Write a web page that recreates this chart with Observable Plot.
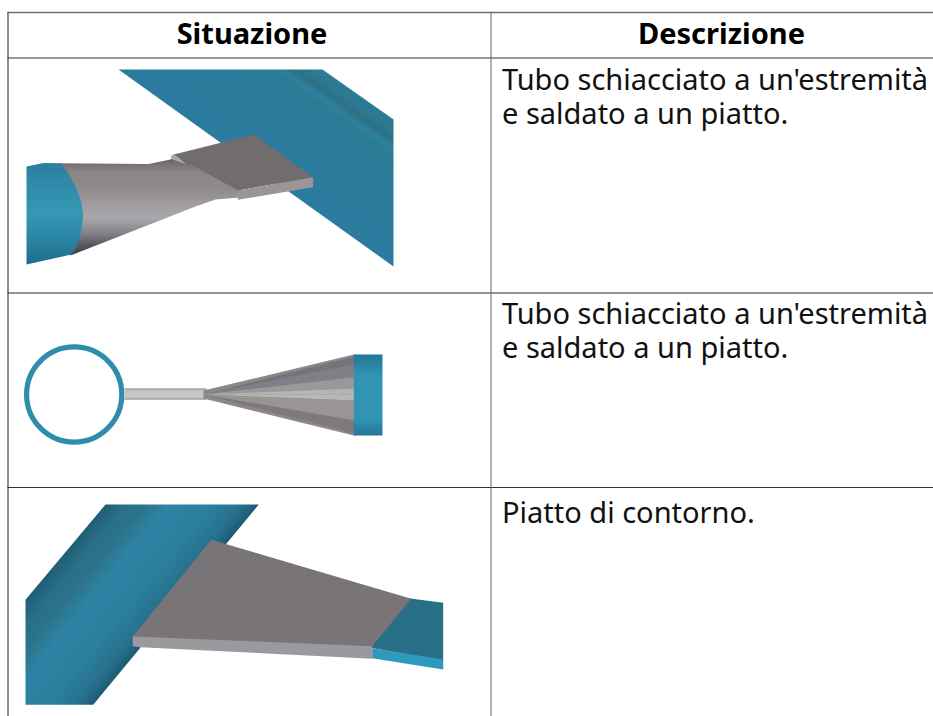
<!DOCTYPE html>
<html><head><meta charset="utf-8">
<script src="https://cdn.jsdelivr.net/npm/d3@7"></script>
<script src="https://cdn.jsdelivr.net/npm/@observablehq/plot@0.6"></script>
<style>html,body{margin:0;padding:0;background:#fff;overflow:hidden}svg{display:block}</style>
</head><body><div id="chart"></div>
<script>
// Table text
const headers = [["Situazione", 251.5], ["Descrizione", 721]];
const headerBaseline = [43];
const descriptions = [
  ["Tubo schiacciato a un'estremità\ne saldato a un piatto.", 123],
  ["Tubo schiacciato a un'estremità\ne saldato a un piatto.", 357],
  ["Piatto di contorno.", 522]
];
const descriptionX = 501.5;
// Table rules
const hLinesGrey = [12, 292.5];
const hLinesDark = [57.5, 487];
const vLineDark = [7.5];
const vLineGrey = [490.5];

// Row 1 shapes
const r1Plate = [[118,69],[322,69],[393,119],[393,266]];
const r1TubeEnd = [[26,166],[43,162.5],[60,162.7],[68,173],[76,188],[81,202],[82.7,215],[81,230],[77,245],[71,254],[26,264]];
const r1Cone = [[58,162.7],[148,163.5],[170,159],[176,153],[240,190],[240,197],[215,199],[195,206],[70,255],[70,200]];
const r1Lip = [[170,155.5],[174,153.5],[186,164],[172,159]];
const r1Top = [[173.3,154],[253.3,134],[312.7,176.7],[237.3,190]];
const r1Front = [[237.3,190],[312.7,176.7],[312.7,186.7],[237.3,199.3]];
// Row 2 shapes
const r2Ring = [{x:73.7, y:394}];
const r2Bar = [[124,387.7],[206,387.7],[206,399.3],[124,399.3]];
const r2Cone = [[203,390],[353.3,354],[355,354],[355,435],[353.3,435],[203,398]];
const r2Apex = [203,394];
const r2FanEdge = [356,364,376.7,388,394,400,420,433];
const r2FanColors = ["#76747a","#807e86","#9a989c","#b5b5b6","#b8b8b8","#9a9595","#7f797a"];
const r2Edge = 354;
const r2End = [[353.3,354],[382,354],[382,435],[353.3,435]];
// Row 3 shapes
const r3Tube = [[105,504],[258.3,504],[92.7,704.3],[25,704.3],[25,599.3]];
const r3Top = [[210.7,539.3],[410.7,598.3],[371.7,645.7],[132.3,636]];
const r3Front = [[132.3,635],[371.7,645],[371.7,658.3],[140,646.7],[132.3,645.7]];
const r3Band = [[408,597.8],[442.7,602.3],[442.7,660],[368,647]];
const r3BandFront = [[371.7,647.7],[442.7,659],[442.7,669],[371.7,657.7]];

// Gradients: id, from point, to point, stops
const gradients = [
  ["plate1", [118,69], [187,-27.6], [[0,"#2b7b9e"],[.6,"#2b7c9c"],[.74,"#2c7b95"],[.8,"#2e809c"],[.86,"#2d7085"],[.92,"#2e788f"],[1,"#2a7c97"]]],
  ["tube1", [0,163], [0,264], [[0,"#2a7f9d"],[.2,"#2f8aa8"],[.5,"#3598b5"],[.75,"#2a84a3"],[1,"#1f6c8c"]]],
  ["cone1", [0,160], [0,256], [[0,"#6c686a"],[.12,"#8a8589"],[.3,"#8f8a8c"],[.48,"#a39fa2"],[.6,"#a9a7ab"],[.75,"#85838a"],[.88,"#5a585e"],[1,"#3c3b40"]]],
  ["end2", [0,354], [0,435], [[0,"#23789a"],[.14,"#2a86a6"],[.25,"#3194b3"],[.8,"#3194b3"],[1,"#217795"]]],
  ["bar2", [0,387.7], [0,399.3], [[0,"#9d9d9d"],[.25,"#c6c6c6"],[.75,"#c8c8c8"],[1,"#9a9a9a"]]],
  ["tube3", [25,599.3], [116.6,675], [[0,"#1f5d75"],[.14,"#296f87"],[.25,"#2c7288"],[.42,"#2d83a3"],[.7,"#2b7f9f"],[.9,"#27708d"],[1,"#1c5b74"]]]
];

const defs = () => {
  const d = d3.create("svg:defs");
  for (const [id, a, b, stops] of gradients) {
    const g = d.append("linearGradient").attr("id", id).attr("gradientUnits", "userSpaceOnUse")
      .attr("x1", a[0]).attr("y1", a[1]).attr("x2", b[0]).attr("y2", b[1]);
    for (const [o, c] of stops) g.append("stop").attr("offset", o).attr("stop-color", c);
  }
  return d.node();
};

const soft = "blur(0.45px)";
const poly = (pts, fill) => Plot.line(pts, {
  x: d => d[0], y: d => d[1], curve: "linear-closed", fill, stroke: "none", imageFilter: soft
});

const fan = r2FanColors.map((c, i) =>
  poly([r2Apex, [r2Edge, r2FanEdge[i]], [r2Edge, r2FanEdge[i + 1]]], c));

const font = "'Noto Sans', sans-serif";

const chart = Plot.plot({
  width: 933, height: 716, margin: 0,
  style: {background: "#fff"},
  x: {domain: [0, 933], axis: null},
  y: {domain: [716, 0], axis: null},
  marks: [
    defs,
    poly(r1Plate, "url(#plate1)"),
    poly(r1Cone, "url(#cone1)"),
    poly(r1TubeEnd, "url(#tube1)"),
    poly(r1Lip, "#a9a7ad"),
    poly(r1Top, "#716c6e"),
    poly(r1Front, "#9a9597"),

    Plot.dot(r2Ring, {x: "x", y: "y", r: 47.6, fill: "none", stroke: "#2f8dac", strokeWidth: 5.2, imageFilter: soft}),
    poly(r2Bar, "url(#bar2)"),
    poly(r2Cone, "#8b878a"),
    ...fan,
    poly(r2End, "url(#end2)"),

    poly(r3Tube, "url(#tube3)"),
    poly(r3Band, "#2a6f88"),
    poly(r3BandFront, "#2e99bb"),
    poly(r3Front, "#9a999d"),
    poly(r3Top, "#787477"),

    Plot.ruleY(hLinesGrey, {x1: 7.5, x2: 933, stroke: "#707070", strokeWidth: 1.4}),
    Plot.ruleY(hLinesDark, {x1: 7.5, x2: 933, stroke: "#333", strokeWidth: 1}),
    Plot.ruleX(vLineDark, {y1: 12, y2: 716, stroke: "#222", strokeWidth: 1}),
    Plot.ruleX(vLineGrey, {y1: 12, y2: 716, stroke: "#666", strokeWidth: 1}),

    Plot.text(headers, {x: d => d[1], y: headerBaseline[0], text: d => d[0], lineAnchor: "bottom",
      textAnchor: "middle", fontSize: 29, fontWeight: 700, fontFamily: font, fill: "#000"}),
    Plot.text(descriptions, {x: descriptionX, y: d => d[1], text: d => d[0], lineAnchor: "bottom", lineHeight: 1.172,
      textAnchor: "start", fontSize: 29, fontFamily: font, fill: "#111"})
  ]
});
document.getElementById("chart").append(chart);
</script></body></html>
